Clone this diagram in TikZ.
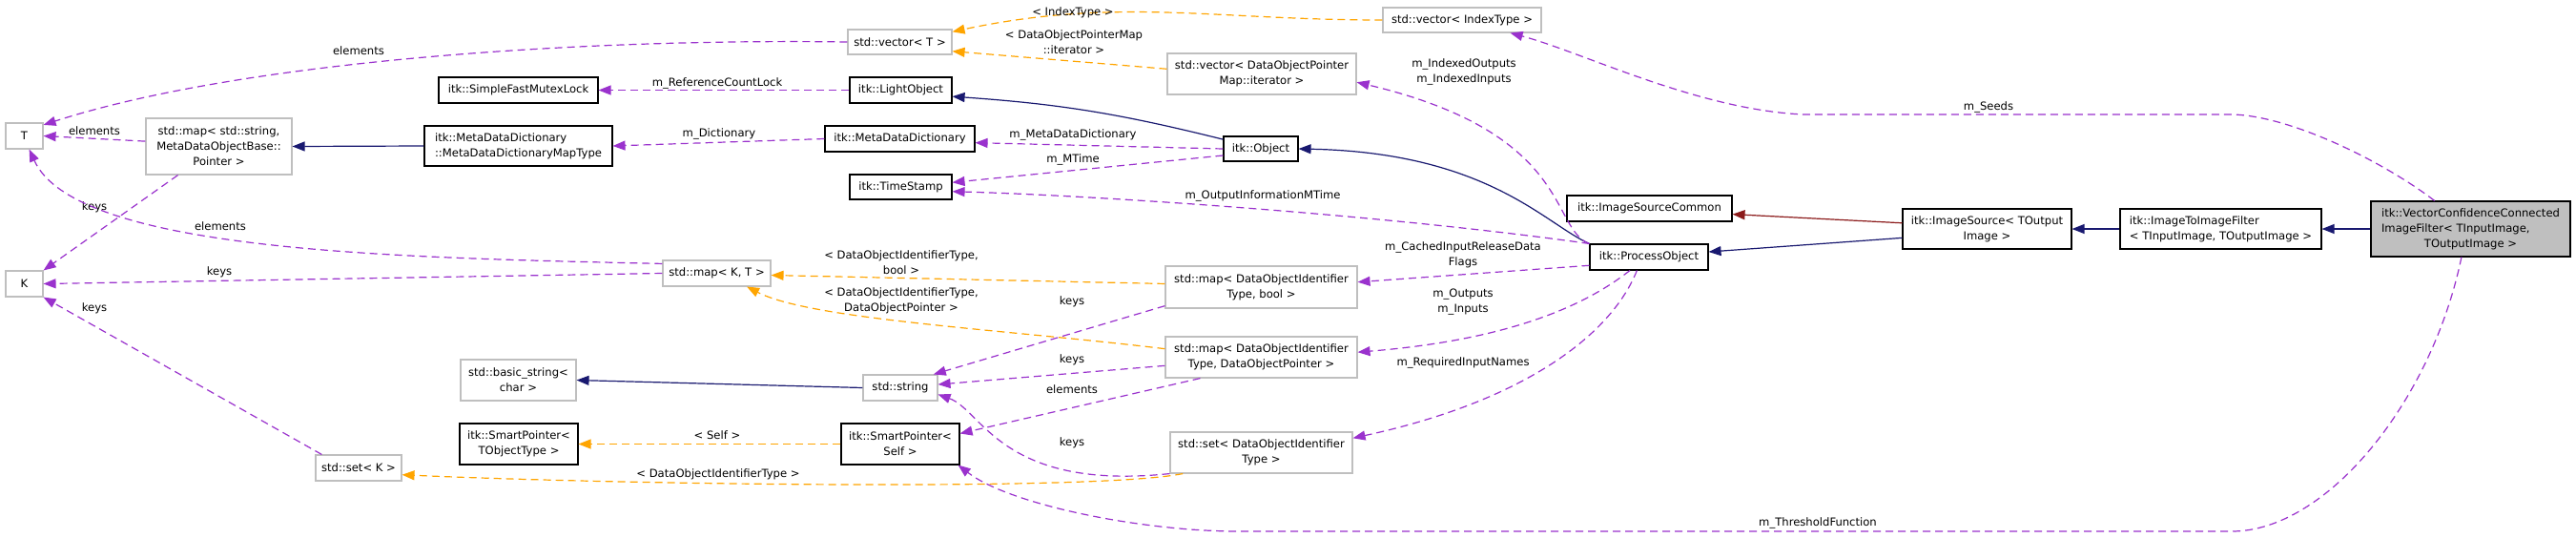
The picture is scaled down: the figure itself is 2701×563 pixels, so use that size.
\documentclass[tikz,border=0pt]{standalone}
\usepackage{fontspec}
\setmainfont{DejaVu Sans}
\usetikzlibrary{arrows.meta}
\definecolor{usecolor}{HTML}{9A32CD}
\definecolor{tmplcolor}{HTML}{FFA500}
\definecolor{inhcolor}{HTML}{191970}
\definecolor{privcolor}{HTML}{8B1A1A}
\definecolor{boxgray}{HTML}{BFBFBF}
\newcommand{\diagfont}{\fontsize{11.6pt}{16pt}\selectfont}
\tikzset{
  box/.style={draw=black, line width=1.1pt, fill=white, rectangle, inner sep=0pt,
    font=\diagfont, align=center, minimum height=27pt},
  stdbox/.style={box, draw=boxgray},
  lbl/.style={font=\diagfont, inner sep=0pt, align=center},
  useedge/.style={draw=usecolor, line width=1.2pt, dash pattern=on 8pt off 5pt,
    -{Triangle[length=13pt,width=10pt]}},
  tmpledge/.style={useedge, draw=tmplcolor},
  inhedge/.style={draw=inhcolor, line width=1.2pt, -{Triangle[length=13pt,width=10pt]}},
}

\begin{document}
\begin{tikzpicture}[x=1pt,y=-1pt]
    \path[use as bounding box, fill=white] (0,0) rectangle (2701,563);
    % left column
    \node[stdbox, minimum width=39pt] (T) at (25.5,142.5) {T};
    \node[stdbox, minimum width=39pt] (K) at (25.5,297.5) {K};
    \node[stdbox, minimum width=153pt, minimum height=59pt] (mapstr) at (229.5,153.5) {std::map< std::string,\\MetaDataObjectBase::\\Pointer >};
    \node[stdbox, minimum width=90pt] (setK) at (376,490.5) {std::set< K >};
    \node[box, minimum width=167pt] (mutex) at (543.5,94.5) {itk::SimpleFastMutexLock};
    \node[box, minimum width=197pt, minimum height=42pt, align=left] (maptype) at (543.5,153) {itk::MetaDataDictionary\\::MetaDataDictionaryMapType};
    \node[stdbox, minimum width=121pt, minimum height=43pt] (basicstr) at (543.5,398.5) {std::basic\_string<\\char >};
    \node[box, minimum width=124pt, minimum height=43pt] (spT) at (544,465.5) {itk::SmartPointer<\\TObjectType >};
    \node[stdbox, minimum width=113pt] (mapKT) at (751.5,286.5) {std::map< K, T >};
    % middle column
    \node[stdbox, minimum width=109pt, minimum height=26pt] (vecT) at (943.5,44) {std::vector< T >};
    \node[box, minimum width=107pt] (light) at (944.5,94.5) {itk::LightObject};
    \node[box, minimum width=157pt] (mdd) at (943.5,145.5) {itk::MetaDataDictionary};
    \node[box, minimum width=107pt, minimum height=26pt] (tstamp) at (944.5,196) {itk::TimeStamp};
    \node[stdbox, minimum width=78pt] (string) at (944,406.5) {std::string};
    \node[box, minimum width=124pt, minimum height=43pt] (spself) at (944,465.5) {itk::SmartPointer<\\Self >};
    % containers
    \node[stdbox, minimum width=166pt, minimum height=26pt] (vecidx) at (1533,21) {std::vector< IndexType >};
    \node[stdbox, minimum width=198pt, minimum height=43pt] (veciter) at (1323,77.5) {std::vector< DataObjectPointer\\Map::iterator >};
    \node[box, minimum width=78pt, minimum height=26pt] (object) at (1322,156) {itk::Object};
    \node[stdbox, minimum width=201pt, minimum height=44pt] (mapbool) at (1322.5,301) {std::map< DataObjectIdentifier\\Type, bool >};
    \node[stdbox, minimum width=201pt, minimum height=43pt] (mapdop) at (1322.5,374.5) {std::map< DataObjectIdentifier\\Type, DataObjectPointer >};
    \node[stdbox, minimum width=191pt, minimum height=43pt] (setdoit) at (1322.5,474.5) {std::set< DataObjectIdentifier\\Type >};
    % filter hierarchy
    \node[box, minimum width=173pt] (isc) at (1729.5,218.5) {itk::ImageSourceCommon};
    \node[box, minimum width=124pt] (po) at (1729,269.5) {itk::ProcessObject};
    \node[box, minimum width=177pt, minimum height=42pt] (imgsrc) at (2083.5,240) {itk::ImageSource< TOutput\\Image >};
    \node[box, minimum width=211pt, minimum height=42pt, align=left] (i2i) at (2328.5,240) {itk::ImageToImageFilter\\< TInputImage, TOutputImage >};
    \node[box, fill=boxgray, minimum width=209pt, minimum height=58pt] (vcc) at (2590.5,240)
      {\begin{tabular}{@{}l@{}}itk::VectorConfidenceConnected\\ImageFilter< TInputImage,\\\multicolumn{1}{@{}c@{}}{TOutputImage >}\end{tabular}};

    % inheritance
    \draw[inhedge] (vcc.west) -- (i2i.east);
    \draw[inhedge] (i2i.west) -- (imgsrc.east);
    \draw[inhedge] (imgsrc.186) -- (po.5);
    \draw[inhedge, draw=privcolor] (imgsrc.176) -- (isc.356);
    \draw[inhedge] (po.north west) .. controls (1620,235) and (1560,160) .. (object.east);
    \draw[inhedge] (object.166) to[bend right=5] (light.353);
    \draw[inhedge] (maptype.west) -- (mapstr.east);
    \draw[inhedge] (string.west) -- (basicstr.east);

    % template arguments
    \draw[tmpledge] (vecidx.west) to[out=180,in=12] (vecT.11);
    \node[lbl] (lIndexType) at (1125,13) {< IndexType >};
    \draw[tmpledge] (veciter.177) -- (vecT.-10);
    \node[lbl] (lIterMap) at (1126,44) {< DataObjectPointerMap\\::iterator >};
    \draw[tmpledge] (mapbool.178) -- (mapKT.-2);
    \node[lbl] (lDoitBool) at (945,275) {< DataObjectIdentifierType,\\bool >};
    \draw[tmpledge] (mapdop.175) .. controls (1050,345) and (850,335) .. (mapKT.-24);
    \node[lbl] (lDoitDop) at (945,315.5) {< DataObjectIdentifierType,\\DataObjectPointer >};
    \draw[tmpledge] (spself.west) -- (spT.east);
    \node[lbl] (lSelf) at (752,456) {< Self >};
    \draw[tmpledge] (setdoit.195) .. controls (1150,515) and (650,508) .. (setK.-9);
    \node[lbl] (lDoitSet) at (753,497) {< DataObjectIdentifierType >};

    % members
    \draw[useedge] (vecT.west) .. controls (600,40) and (250,65) .. (T.30);
    \node[lbl] (lElemVec) at (376,53) {elements};
    \draw[useedge] (mapstr.176) -- (T.east);
    \node[lbl] (lElemMapStr) at (99,137) {elements};
    \draw[useedge] (mapstr.215) -- (K.north east);
    \node[lbl] (lKeysMapStr) at (99,217) {keys};
    \draw[useedge] (mapKT.170) .. controls (420,270) and (80,265) .. (T.-70);
    \node[lbl] (lElemMapKT) at (231,237) {elements};
    \draw[useedge] (mapKT.west) -- (K.east);
    \node[lbl] (lKeysMapKT) at (230,285) {keys};
    \draw[useedge] (setK.160) -- (K.south east);
    \node[lbl] (lKeysSetK) at (99,323) {keys};
    \draw[useedge] (light.west) -- (mutex.east);
    \node[lbl] (lRefLock) at (752,87) {m\_ReferenceCountLock};
    \draw[useedge] (mdd.west) -- (maptype.east);
    \node[lbl] (lDict) at (754,140) {m\_Dictionary};
    \draw[useedge] (object.west) -- (mdd.-3);
    \node[lbl] (lMdd) at (1125,141) {m\_MetaDataDictionary};
    \draw[useedge] (object.190) -- (tstamp.5);
    \node[lbl] (lMTime) at (1125,167) {m\_MTime};
    \draw[useedge] (po.north west) .. controls (1450,225) and (1150,205) .. (tstamp.-5);
    \node[lbl] (lOutMTime) at (1324,205) {m\_OutputInformationMTime};
    \draw[useedge] (po.north west) .. controls (1625,240) and (1650,140) .. (veciter.-5);
    \node[lbl] (lIndexed) at (1535,75) {m\_IndexedOutputs\\m\_IndexedInputs};
    \draw[useedge] (po.188) -- (mapbool.3);
    \node[lbl] (lCached) at (1534,267) {m\_CachedInputReleaseData\\Flags};
    \draw[useedge] (po.-145) .. controls (1650,330) and (1560,358) .. (mapdop.3);
    \node[lbl] (lInOut) at (1534,317) {m\_Outputs\\m\_Inputs};
    \draw[useedge] (po.-132) .. controls (1690,350) and (1600,420) .. (setdoit.9);
    \node[lbl] (lReqNames) at (1534,380) {m\_RequiredInputNames};
    \draw[useedge] (mapbool.191) -- (string.22);
    \node[lbl] (lKeysBool) at (1124,316) {keys};
    \draw[useedge] (mapdop.185) -- (string.5);
    \node[lbl] (lKeysDop) at (1124,377) {keys};
    \draw[useedge] (mapdop.199) -- (spself.10);
    \node[lbl] (lElemDop) at (1124,408) {elements};
    \draw[useedge] (setdoit.south west) .. controls (1050,515) and (1030,430) .. (string.-10);
    \node[lbl] (lKeysSet) at (1124,464) {keys};
    % long members of the filter
    \coordinate (seedR) at (2338,120);
    \coordinate (seedL) at (1891,120);
    \draw[useedge] (vcc.142) .. controls (2500,170) and (2400,120) .. (seedR) -- (seedL)
      .. controls (1780,115) and (1660,55) .. (vecidx.-15);
    \node[lbl] (lSeeds) at (2085,112) {m\_Seeds};
    \coordinate (threshR) at (2340,557);
    \coordinate (threshL) at (1298,557);
    \draw[useedge] (vcc.252) .. controls (2550,420) and (2440,557) .. (threshR) -- (threshL)
      .. controls (1200,557) and (1060,530) .. (spself.-20);
    \node[lbl] (lThresh) at (1906,548) {m\_ThresholdFunction};
\end{tikzpicture}
\end{document}
